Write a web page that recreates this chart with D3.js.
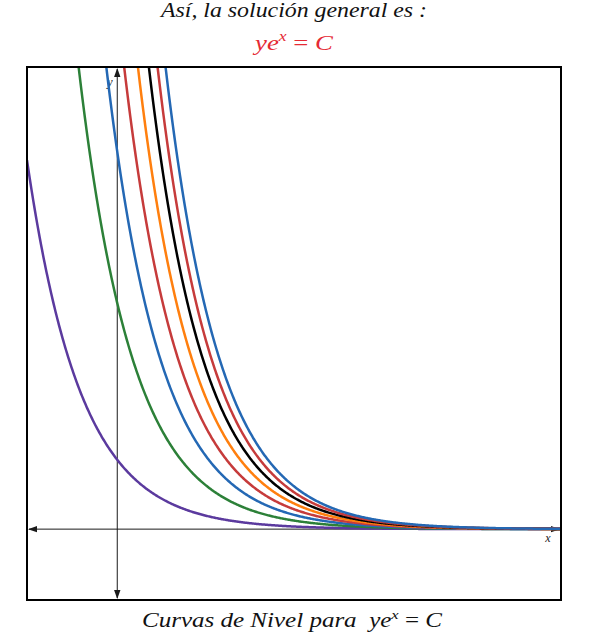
<!DOCTYPE html>
<html>
<head>
<meta charset="utf-8">
<script src="https://cdn.jsdelivr.net/npm/d3@7"></script>
<style>
  html, body { margin: 0; padding: 0; background: #fff; }
  svg { display: block; }
  text { font-family: "Liberation Serif", "DejaVu Serif", serif; font-style: italic; }
</style>
</head>
<body>
<svg id="chart" width="590" height="640"></svg>
<script>
// ---- data ----
const curveNames = ["C1", "C2", "C3", "C4", "C5", "C6", "C7", "C8"];
const cValues = [0.45, 1.467, 2.45, 3.41, 4.40, 5.39, 6.33, 7.34];
const curveColors = ["#5b3a9e", "#2c8038", "#2468b4", "#c63b3b", "#ff7f0e", "#000000", "#c63b3b", "#2468b4"];
const xDomain = [-1.672, 8.22];
const yDomain = [-0.46, 3.0];
const titleText = "Así, la solución general es :";
const bottomText = "Curvas de Nivel para\u00a0\u00a0";

// ---- layout ----
const pLeft = 27, pRight = 561, pTop = 67, pBottom = 600;
const svg = d3.select("#chart");
const x = d3.scaleLinear().domain(xDomain).range([pLeft, pRight]);
const y = d3.scaleLinear().domain(yDomain).range([pBottom, pTop]);

const defs = svg.append("defs");
defs.append("clipPath").attr("id", "clip")
  .append("rect").attr("x", pLeft).attr("y", pTop)
  .attr("width", pRight - pLeft).attr("height", pBottom - pTop);

// titles
svg.append("text").attr("x", 294).attr("y", 17)
  .attr("text-anchor", "middle").attr("font-size", 20)
  .attr("textLength", 266).attr("lengthAdjust", "spacingAndGlyphs")
  .attr("fill", "#111").text(titleText);

function formula(g, cx, cy, size, color, prefix, width) {
  const t = g.append("text").attr("x", cx).attr("y", cy)
    .attr("text-anchor", "middle").attr("font-size", size).attr("fill", color);
  if (prefix) t.append("tspan").text(prefix);
  t.append("tspan").text("ye");
  t.append("tspan").attr("dy", -size * 0.42).attr("font-size", size * 0.66).text("x");
  t.append("tspan").attr("dy", size * 0.42).attr("font-style", "normal").text(" = ");
  t.append("tspan").text("C");
  if (width) t.attr("textLength", width).attr("lengthAdjust", "spacingAndGlyphs");
  return t;
}
formula(svg, 294, 50, 21, "#e52a34", null, 78);
formula(svg, 292, 627, 20, "#111", bottomText, 300);

// axes (x axis y=0, y axis x=0) with arrowheads
const axisColor = "#1a1a1a";
const axes = svg.append("g");
const y0 = y(0), x0 = x(0);
axes.append("line").attr("x1", pLeft + 2).attr("x2", pRight - 2).attr("y1", y0).attr("y2", y0)
  .attr("stroke", axisColor).attr("stroke-width", 1);
axes.append("line").attr("x1", x0).attr("x2", x0).attr("y1", pTop + 2).attr("y2", pBottom - 2)
  .attr("stroke", axisColor).attr("stroke-width", 1);
function arrow(px, py, dir) {
  const L = 9, W = 3.2;
  let pts;
  if (dir === "l") pts = [[px, py], [px + L, py - W], [px + L, py + W]];
  if (dir === "r") pts = [[px, py], [px - L, py - W], [px - L, py + W]];
  if (dir === "u") pts = [[px, py], [px - W, py + L], [px + W, py + L]];
  if (dir === "d") pts = [[px, py], [px - W, py - L], [px + W, py - L]];
  axes.append("path").attr("d", "M" + pts.map(p => p.join(",")).join("L") + "Z").attr("fill", axisColor);
}
arrow(pLeft + 1, y0, "l");
arrow(pRight - 1, y0, "r");
arrow(x0, pTop + 1, "u");
arrow(x0, pBottom - 1, "d");
axes.append("text").attr("x", 548).attr("y", 542).attr("font-size", 12)
  .attr("text-anchor", "middle").attr("fill", "#222").text("x");
axes.append("text").attr("x", 110).attr("y", 86).attr("font-size", 12)
  .attr("text-anchor", "middle").attr("fill", "#222").text("y");

// curves y = C e^{-x}
const xs = d3.range(0, 601).map(i => xDomain[0] + (xDomain[1] - xDomain[0]) * i / 600);
const line = d3.line().x(d => x(d[0])).y(d => y(d[1]));
const cg = svg.append("g").attr("clip-path", "url(#clip)");
cValues.forEach((c, i) => {
  const pts = xs.map(v => [v, c * Math.exp(-v)]).filter(p => p[1] < yDomain[1] * 1.5);
  cg.append("path").datum(pts)
    .attr("d", line)
    .attr("fill", "none").attr("stroke", curveColors[i]).attr("stroke-width", 2.5)
    .attr("class", curveNames[i]);
});

// frame
svg.append("rect").attr("x", pLeft).attr("y", pTop).attr("width", pRight - pLeft).attr("height", pBottom - pTop)
  .attr("fill", "none").attr("stroke", "#000").attr("stroke-width", 2);
</script>
</body>
</html>
